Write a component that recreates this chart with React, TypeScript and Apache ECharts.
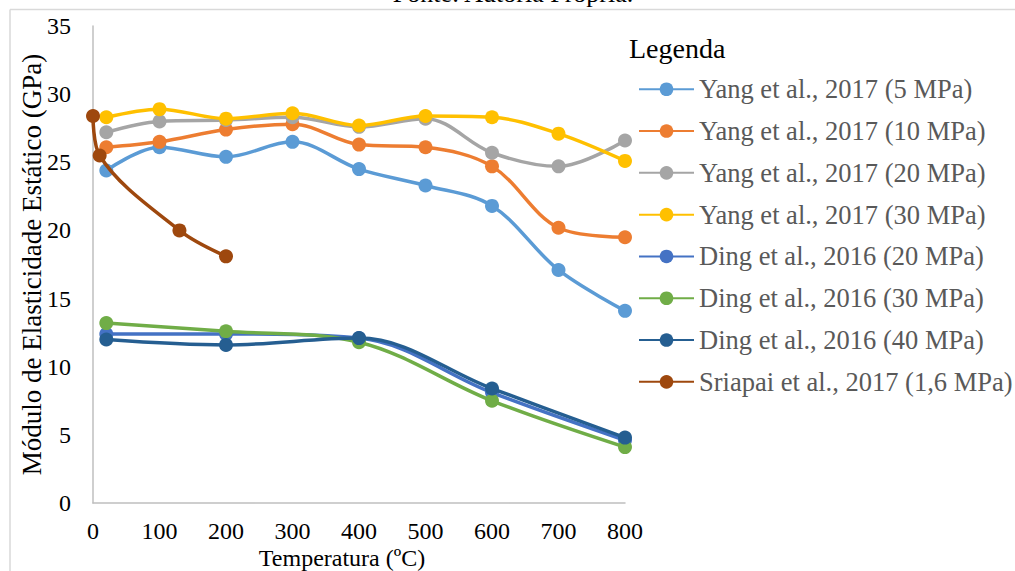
import React, { useEffect, useRef } from "react";
import * as echarts from "echarts";

const seriesNames = [
  "Yang et al., 2017 (5 MPa)",
  "Yang et al., 2017 (10 MPa)",
  "Yang et al., 2017 (20 MPa)",
  "Yang et al., 2017 (30 MPa)",
  "Ding et al., 2016 (20 MPa)",
  "Ding et al., 2016 (30 MPa)",
  "Ding et al., 2016 (40 MPa)",
  "Sriapai et al., 2017 (1,6 MPa)",
];
const colors = ["#5B9BD5", "#ED7D31", "#A5A5A5", "#FFC000", "#4472C4", "#70AD47", "#255E91", "#9E480E"];

const yangTemps = [20, 100, 200, 300, 400, 500, 600, 700, 800];
const yang5 = [24.4, 26.1, 25.4, 26.5, 24.5, 23.3, 21.8, 17.1, 14.1];
const yang10 = [26.1, 26.5, 27.4, 27.8, 26.3, 26.1, 24.7, 20.2, 19.5];
const yang20 = [27.2, 28.0, 28.1, 28.3, 27.6, 28.2, 25.7, 24.7, 26.6];
const yang30 = [28.3, 28.9, 28.2, 28.6, 27.7, 28.4, 28.3, 27.1, 25.1];

const dingTemps = [20, 200, 400, 600, 800];
const ding20 = [12.4, 12.4, 12.1, 8.1, 4.6];
const ding30 = [13.2, 12.6, 11.8, 7.5, 4.1];
const ding40 = [12.0, 11.6, 12.1, 8.4, 4.8];

const sriapaiTemps = [0, 10, 130, 200];
const sriapai = [28.4, 25.5, 20.0, 18.1];

const xTicks = { min: 0, max: 800, interval: 100 };
const yTicks = { min: 0, max: 35, interval: 5 };

const FONT = "'Liberation Serif', 'Times New Roman', serif";

function pairs(xs: number[], ys: number[]) {
  return xs.map((x, i) => [x, ys[i]]);
}

export default function App() {
  const ref = useRef<HTMLDivElement>(null);
  useEffect(() => {
    document.body.style.margin = "0";
    const chart = echarts.init(ref.current!, undefined, { renderer: "svg" });
    const dataSets = [
      pairs(yangTemps, yang5),
      pairs(yangTemps, yang10),
      pairs(yangTemps, yang20),
      pairs(yangTemps, yang30),
      pairs(dingTemps, ding20),
      pairs(dingTemps, ding30),
      pairs(dingTemps, ding40),
      pairs(sriapaiTemps, sriapai),
    ];
    chart.setOption({
      animation: false,
      backgroundColor: "#ffffff",
      grid: { left: 93, right: 390, top: 26, bottom: 68, containLabel: false, outerBoundsMode: "none" },
      xAxis: {
        type: "value",
        min: xTicks.min,
        max: xTicks.max,
        interval: xTicks.interval,
        name: "Temperatura (ºC)",
        nameLocation: "middle",
        nameGap: 43,
        nameMoveOverlap: false,
        nameTextStyle: { fontFamily: FONT, fontSize: 24, color: "#000", padding: [0, 34, 0, 0] },
        axisLine: { lineStyle: { color: "#bfbfbf", width: 1.5 } },
        axisTick: { show: false },
        splitLine: { show: false },
        axisLabel: { fontFamily: FONT, fontSize: 24, color: "#000", margin: 16 },
      },
      yAxis: {
        type: "value",
        min: yTicks.min,
        max: yTicks.max,
        interval: yTicks.interval,
        name: "Módulo de Elasticidade Estático (GPa)",
        nameLocation: "middle",
        nameGap: 48,
        nameMoveOverlap: false,
        nameTextStyle: { fontFamily: FONT, fontSize: 27, color: "#000" },
        axisLine: { show: true, lineStyle: { color: "#bfbfbf", width: 1.5 } },
        axisTick: { show: false },
        splitLine: { show: false },
        axisLabel: { fontFamily: FONT, fontSize: 24, color: "#000", margin: 22 },
      },
      legend: {
        orient: "vertical",
        left: 633,
        top: 70.75,
        itemWidth: 55,
        itemHeight: 17,
        itemGap: 14.8,
        textStyle: { fontFamily: FONT, fontSize: 26.5, color: "#595959", lineHeight: 26.5 },
        data: seriesNames,
      },
      graphic: [
        {
          type: "line",
          shape: { x1: 10, y1: 9.5, x2: 1015, y2: 9.5 },
          style: { stroke: "#d9d9d9", lineWidth: 1.5 },
          silent: true,
        },
        {
          type: "line",
          shape: { x1: 10, y1: 9.5, x2: 10, y2: 571 },
          style: { stroke: "#d9d9d9", lineWidth: 1.5 },
          silent: true,
        },
        {
          type: "text",
          x: 513,
          y: -7,
          style: {
            text: "Fonte: Autoria Própria.",
            fontFamily: FONT,
            fontSize: 26,
            fill: "#000",
            align: "center",
            verticalAlign: "middle",
          },
          silent: true,
        },
        {
          type: "text",
          x: 629,
          y: 48,
          style: {
            text: "Legenda",
            fontFamily: FONT,
            fontSize: 28,
            fill: "#000",
            align: "left",
            verticalAlign: "middle",
          },
          silent: true,
        },
      ],
      series: seriesNames.map((name, i) => ({
        name,
        type: "line",
        data: dataSets[i],
        smooth: 0.35,
        symbol: "circle",
        symbolSize: 14,
        color: colors[i],
        lineStyle: { width: 3.5, color: colors[i] },
        itemStyle: { color: colors[i] },
        z: 2 + i,
      })),
    });
    return () => chart.dispose();
  }, []);
  return <div ref={ref} style={{ width: 1015, height: 571, position: "fixed", left: 0, top: 0 }} />;
}
